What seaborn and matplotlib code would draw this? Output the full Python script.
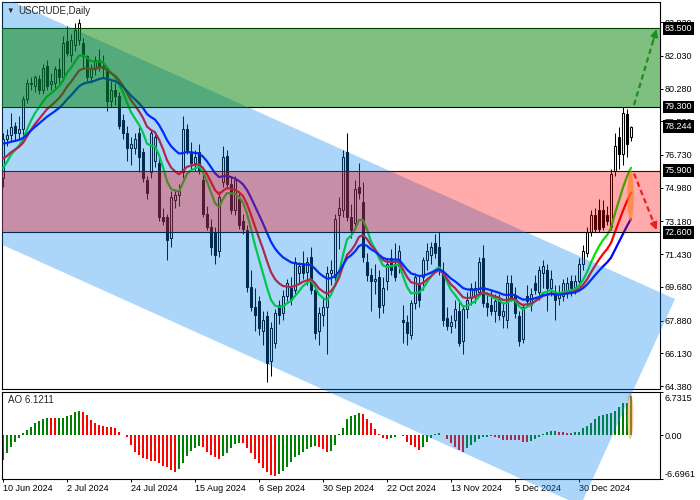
import numpy as np
import pandas as pd
import matplotlib
matplotlib.use("Agg")
import matplotlib.pyplot as plt
import matplotlib.transforms as mtrans
from matplotlib.patches import Polygon, Ellipse
import seaborn as sns

# ================= data =================
date_labels = ["10 Jun 2024", "2 Jul 2024", "24 Jul 2024", "15 Aug 2024", "6 Sep 2024",
               "30 Sep 2024", "22 Oct 2024", "13 Nov 2024", "5 Dec 2024", "30 Dec 2024"]
date_pos = [0, 16, 32, 48, 64, 80, 96, 112, 128, 144]

opens = [75.5, 77.6, 77.8, 78.3, 77.9, 78.1, 79.7, 80.6, 80.4, 80.8,
         80.2, 81.5, 80.5, 80.6, 81.3, 80.9, 82.8, 82.1, 82.6, 82.9,
         82.7, 82.0, 80.9, 81.3, 81.8, 81.5, 81.2, 79.6, 80.2, 79.9,
         78.6, 77.9, 77.1, 77.1, 77.9, 76.9, 75.4, 75.8, 76.4, 76.3,
         73.4, 73.4, 72.3, 74.3, 74.6, 75.8, 78.1, 76.9, 76.3, 76.9,
         75.4, 73.6, 72.9, 72.6, 71.6, 75.3, 76.7, 75.2, 73.8, 74.4,
         73.2, 72.7, 69.7, 68.6, 68.9, 67.3, 68.1, 65.7, 66.7, 68.7,
         68.3, 69.2, 69.6, 69.5, 70.4, 70.9, 70.5, 71.3, 69.5, 67.3,
         68.2, 68.6, 70.4, 70.2, 73.5, 73.8, 76.9, 73.4, 73.1, 75.0,
         74.2, 71.0, 70.3, 70.0, 70.2, 68.7, 70.0, 71.2, 70.9, 70.8,
         67.9, 67.8, 67.1, 68.8, 69.8, 70.2, 71.1, 71.4, 72.0, 71.8,
         70.4, 68.0, 67.6, 67.9, 68.4, 66.8, 68.5, 69.1, 69.2, 69.4,
         71.2, 68.8, 68.7, 68.4, 69.0, 68.1, 67.9, 69.9, 69.2, 68.1,
         66.9, 69.2, 68.7, 69.9, 69.4, 70.4, 70.6, 69.6, 69.4, 69.1,
         69.2, 69.4, 70.0, 69.6, 70.0, 70.9, 71.5, 72.6, 73.5, 73.8,
         73.8, 73.5, 72.9, 75.9, 77.7, 76.8, 78.9, 77.7]
highs = [77.9, 78.1, 79.0, 78.5, 78.8, 79.9, 80.8, 80.9, 81.0, 81.0,
         81.6, 81.8, 81.1, 81.5, 81.9, 83.1, 83.6, 83.2, 83.8, 84.0,
         83.0, 82.1, 81.6, 82.0, 82.4, 82.1, 81.4, 80.7, 80.6, 80.1,
         78.9, 78.3, 77.7, 77.9, 78.2, 77.1, 75.6, 78.1, 78.0, 76.6,
         73.9, 73.6, 74.8, 74.9, 75.2, 78.8, 78.4, 77.4, 77.0, 77.3,
         75.8, 74.0, 73.3, 72.9, 74.8, 77.2, 77.0, 75.6, 75.6, 74.8,
         73.6, 73.0, 70.6, 69.6, 69.2, 68.4, 68.4, 67.8, 68.5, 69.0,
         69.5, 70.1, 70.2, 71.3, 71.0, 71.6, 71.3, 71.8, 69.8, 68.6,
         69.1, 70.8, 71.1, 73.6, 74.5, 77.0, 77.9, 74.1, 75.4, 76.3,
         75.3, 71.5, 70.7, 70.9, 70.6, 70.2, 71.2, 71.7, 72.0, 71.9,
         68.7, 68.2, 69.0, 70.4, 70.3, 71.3, 72.0, 72.1, 72.5, 72.6,
         71.0, 68.6, 68.2, 69.0, 68.9, 68.7, 69.4, 69.9, 70.0, 71.3,
         71.9, 69.4, 69.5, 69.3, 69.3, 68.8, 70.3, 70.3, 69.7, 68.4,
         68.8, 69.8, 69.6, 70.3, 70.8, 71.1, 70.9, 70.6, 69.8, 69.8,
         70.1, 70.2, 70.3, 70.3, 71.2, 71.9, 72.9, 73.8, 73.9, 74.4,
         74.3, 74.0, 76.0, 77.9, 78.2, 79.3, 79.2, 78.3]
lows = [75.0, 77.2, 77.5, 77.5, 77.6, 77.8, 79.5, 80.2, 80.1, 80.0,
        80.0, 80.2, 80.2, 80.3, 80.6, 80.7, 82.0, 81.7, 82.3, 82.6,
        81.3, 80.7, 80.6, 81.0, 81.2, 80.9, 79.1, 79.3, 79.4, 78.1,
        77.6, 76.4, 76.2, 76.8, 75.8, 75.3, 74.4, 75.5, 76.1, 73.2,
        73.0, 71.1, 71.8, 73.9, 74.0, 75.5, 76.8, 75.9, 75.9, 75.7,
        73.4, 72.7, 71.4, 70.9, 71.3, 75.0, 75.0, 73.6, 73.5, 72.8,
        72.5, 69.4, 68.4, 67.3, 67.1, 66.6, 64.6, 64.9, 66.4, 67.7,
        67.9, 68.9, 68.7, 69.2, 69.9, 70.1, 69.8, 69.3, 66.9, 66.6,
        67.6, 66.1, 69.8, 69.9, 71.7, 73.4, 73.2, 72.3, 72.8, 74.4,
        71.0, 70.0, 68.4, 69.3, 68.0, 68.3, 69.5, 70.3, 70.0, 70.4,
        66.7, 66.6, 66.9, 68.5, 68.6, 69.5, 70.6, 70.9, 71.2, 70.3,
        67.6, 67.4, 67.2, 67.5, 66.5, 66.1, 68.0, 68.7, 68.8, 69.2,
        68.6, 68.1, 68.2, 67.8, 67.9, 67.5, 67.5, 68.9, 68.0, 66.5,
        66.7, 68.6, 68.4, 69.3, 69.0, 69.6, 68.4, 69.2, 67.9, 68.7,
        68.9, 69.1, 69.2, 69.3, 69.8, 70.6, 71.3, 72.4, 72.6, 72.6,
        72.7, 73.0, 72.7, 75.6, 76.0, 76.2, 76.6, 77.5]
closes = [77.6, 77.8, 78.2, 77.9, 78.1, 79.7, 80.6, 80.5, 80.9, 80.2,
          81.4, 80.4, 80.7, 81.3, 80.9, 82.7, 82.2, 82.9, 83.4, 83.8,
          82.0, 80.9, 81.3, 81.8, 81.5, 81.4, 79.6, 80.2, 79.9, 78.3,
          77.9, 77.1, 77.3, 77.6, 76.6, 75.5, 74.7, 77.9, 77.7, 73.4,
          73.2, 72.2, 74.5, 74.6, 74.8, 78.1, 77.0, 76.3, 76.6, 75.9,
          73.6, 72.9, 71.8, 71.4, 74.5, 76.6, 75.2, 73.8, 75.4, 73.0,
          72.8, 69.7, 68.6, 68.2, 67.5, 67.9, 65.6, 67.5, 68.3, 68.2,
          69.2, 69.9, 69.0, 71.0, 70.8, 70.4, 71.0, 69.5, 67.2, 68.3,
          68.6, 70.4, 70.6, 73.3, 73.9, 76.6, 73.4, 72.7, 74.9, 74.7,
          71.3, 70.3, 70.0, 70.1, 68.6, 69.6, 70.9, 70.6, 70.2, 71.6,
          67.8, 67.2, 68.8, 70.2, 69.0, 71.1, 71.6, 71.8, 71.5, 70.6,
          67.9, 67.6, 67.8, 68.5, 66.7, 68.5, 69.0, 69.6, 69.6, 71.0,
          68.8, 68.6, 68.4, 68.9, 68.2, 68.4, 69.9, 69.1, 68.3, 66.8,
          68.6, 68.9, 69.3, 69.5, 70.6, 70.8, 69.6, 70.1, 69.0, 69.4,
          69.9, 69.9, 69.6, 70.0, 70.9, 71.6, 72.6, 73.5, 72.8, 72.8,
          72.9, 73.2, 75.7, 77.2, 76.8, 79.0, 77.3, 78.244]

# Awesome Oscillator histogram
ao_values = [-3.82, -2.79, -1.75, -0.98, -0.47, 0.41, 0.82, 1.33, 1.85, 2.26,
             2.52, 2.72, 2.67, 2.62, 2.67, 2.72, 2.98, 3.2, 3.55, 3.75,
             3.65, 3.13, 2.36, 1.95, 1.59, 1.48, 1.33, 1.23, 1.07, 0.56,
             0.05, -0.21, -1.5, -2.53, -3.04, -3.56, -3.71, -3.92, -3.95, -4.33,
             -4.74, -4.95, -5.36, -5.61, -5.25, -4.33, -3.2, -2.48, -2.01, -1.65,
             -1.86, -2.53, -3.04, -3.4, -3.66, -3.2, -2.68, -2.01, -1.4, -1.14,
             -1.24, -1.91, -2.79, -3.71, -4.33, -5.1, -5.72, -6.13, -6.28, -5.97,
             -5.51, -4.84, -4.07, -3.4, -3.04, -2.53, -2.17, -1.86, -1.65, -1.75,
             -2.17, -2.53, -2.37, -1.5, 0.15, 1.15, 2.45, 2.98, 3.13, 3.39,
             3.29, 2.46, 1.85, 0.92, 0.15, -0.47, -0.55, -0.45, -0.3, 0.05,
             -0.15, -0.98, -1.5, -1.75, -2.27, -1.75, -0.98, -0.47, 0.2, 0.41,
             0.05, -0.62, -1.24, -1.75, -2.27, -2.53, -2.01, -1.5, -0.98, -0.62,
             -0.31, -0.21, -0.11, -0.21, -0.47, -0.72, -0.74, -0.76, -0.78, -0.8,
             -0.98, -1.0, -0.88, -0.62, -0.31, 0.2, 0.56, 0.67, 0.7, 0.56,
             0.45, 0.41, 0.38, 0.5, 0.56, 1.07, 1.43, 1.85, 2.46, 2.98,
             3.2, 3.3, 3.45, 3.8, 4.32, 4.94, 5.04, 6.1211]

# smoothed moving averages (lips / teeth / jaw) of the median price
ma_periods = [5, 8, 13]
ma_start = [75.93, 76.55, 77.42]
ma_colors = ["#00e600", "#ff0000", "#0000ff"]

price_ticks = [64.38, 66.13, 67.88, 69.68, 71.43, 73.18, 74.98, 76.73, 78.53, 80.28, 82.03, 83.83]
ao_ticks = [-6.6961, 0.0, 6.7315]
levels = [83.5, 79.3, 75.9, 72.6]
last_price = 78.244

# drawn objects: channel corners (bar, price), target arrows
channel_x = [-1.75, 168.0, 144.375, -1.75]
channel_y = [85.33, 69.03, 57.995, 72.08]
arrow_up = [(157.75, 79.4), (163.4, 83.45)]
arrow_down = [(157.75, 75.74), (163.4, 72.72)]

# ================= figure =================
sns.set_theme(style="white")
plt.rcParams['font.family'] = ['Liberation Sans', 'DejaVu Sans']

W, H = 700, 500
fig = plt.figure(figsize=(7, 5), dpi=100, facecolor='white')


def box(x0, y0, x1, y1):
    return [x0 / W, 1 - y1 / H, (x1 - x0) / W, (y1 - y0) / H]


ax = fig.add_axes(box(2, 2, 659.5, 389))
ax2 = fig.add_axes(box(2, 391.7, 659.5, 478.7))
for a in (ax, ax2):
    a.set_facecolor('white')
    for s in a.spines.values():
        s.set_color('black')
        s.set_linewidth(0.8)

df = pd.DataFrame({'o': opens, 'h': highs, 'l': lows, 'c': closes})
df['i'] = np.arange(len(df))
up = df.c >= df.o

# candles
ax.vlines(df.i, df.l, df.h, color='black', lw=0.75, zorder=2)
ax.bar(df.i[up], (df.c - df.o)[up], bottom=df.o[up], width=0.62,
       facecolor='white', edgecolor='black', linewidth=0.75, zorder=2.5)
ax.bar(df.i[~up], (df.o - df.c)[~up], bottom=df.c[~up], width=0.62,
       facecolor='black', edgecolor='black', linewidth=0.75, zorder=2.5)

# moving averages
median = (df.h + df.l) / 2
for n, start, col in zip(ma_periods, ma_start, ma_colors):
    smma = pd.concat([pd.Series([start]), median], ignore_index=True)
    smma = smma.ewm(alpha=1 / n, adjust=False).mean().iloc[1:].values
    sns.lineplot(x=df.i.values, y=smma, color=col, linewidth=1.6, ax=ax, zorder=3)

# levels + zones
for lv in levels:
    ax.axhline(lv, color='black', lw=0.8, zorder=3.6)
chan_pts = list(zip(channel_x, channel_y))
ax.add_patch(Polygon(chan_pts, closed=True, facecolor='#0085f0', alpha=0.33,
                     edgecolor='none', zorder=4))
ax.axhspan(levels[1], levels[0], color='#008000', alpha=0.5, lw=0, zorder=5)
ax.axhspan(levels[3], levels[2], color='#ff0000', alpha=0.33, lw=0, zorder=5)

# channel part outside the price panel (over the oscillator and labels)
chan_out = Polygon(chan_pts, closed=True, facecolor='#0085f0', alpha=0.33,
                   edgecolor='none', transform=ax.transData, zorder=5)
clip = Polygon([(0, 0), (1, 0), (1, 1), (659.5 / W, 1), (659.5 / W, 1 - 389 / H), (0, 1 - 389 / H)],
               closed=True, transform=fig.transFigure)
chan_out.set_clip_path(clip)
fig.add_artist(chan_out)

ax.add_patch(Ellipse((156.9, 74.55), 1.6, 2.7, facecolor='#ff7f2a', alpha=0.7,
                     edgecolor='none', zorder=6))


def dashed_arrow(p0, p1, color):
    ax.plot([p0[0], p1[0]], [p0[1], p1[1]], color=color, lw=1.6,
            ls=(0, (2.4, 1.6)), zorder=7)
    back = (p1[0] - (p1[0] - p0[0]) * 0.14, p1[1] - (p1[1] - p0[1]) * 0.14)
    ax.annotate('', xy=p1, xytext=back, zorder=8, annotation_clip=False,
                arrowprops=dict(arrowstyle='-|>', color=color, lw=1.2,
                                mutation_scale=11, shrinkA=0, shrinkB=0))


dashed_arrow(arrow_up[0], arrow_up[1], '#1f8c1f')
dashed_arrow(arrow_down[0], arrow_down[1], '#e62020')

ax.set_xlim(-0.25, 164.125)
ax.set_ylim(64.222, 84.906)
ax.set_xlabel('')
ax.set_ylabel('')
ax.set_xticks([])
ax.set_yticks(price_ticks)
ax.set_yticklabels([f"{v:.3f}" for v in price_ticks])
ax.tick_params(axis='y', left=False, right=True, labelleft=False, labelright=True,
               direction='out', length=2.2, width=0.7, pad=1.6, labelsize=6.5,
               color='black', labelcolor='black')

trans = mtrans.blended_transform_factory(ax.transAxes, ax.transData)
for v in levels + [last_price]:
    ax.text((665 - 2) / 657.5, v, f"{v:.3f}", transform=trans, color='white',
            fontsize=6.5, va='center', ha='left', clip_on=False, zorder=10,
            bbox=dict(boxstyle='square,pad=0.2', fc='black', ec='black', lw=0))

# ================= AO panel =================
ao = np.array(ao_values)
ao_cols = ['#008000' if k == 0 or ao[k] >= ao[k - 1] else '#ff0000' for k in range(len(ao))]
ax2.bar(np.arange(len(ao)), ao, width=0.7, color=ao_cols, linewidth=0, zorder=2)
ax2.add_patch(Ellipse((156.8, 2.98), 1.6, 7.2, facecolor='#ff8c40', alpha=0.5,
                      edgecolor='none', zorder=4))
ax2.set_xlim(-0.25, 164.125)
ax2.set_ylim(ao_ticks[0], ao_ticks[-1])
ax2.set_yticks(ao_ticks)
ax2.set_yticklabels(['-6.6961', '0.00', '6.7315'])
ax2.tick_params(axis='y', left=False, right=True, labelleft=False, labelright=True,
                direction='out', length=2.2, width=0.7, pad=1.6, labelsize=6.5,
                color='black', labelcolor='black')
# end labels sit inside the panel, like the terminal draws them
for t, dy in zip(ax2.yaxis.get_major_ticks(), [5, 0, -5.5]):
    t.label2.set_transform(t.label2.get_transform()
                           + mtrans.ScaledTranslation(0, dy / 100, fig.dpi_scale_trans))
ax2.set_xticks(date_pos)
ax2.set_xticklabels(date_labels, ha='left')
ax2.tick_params(axis='x', bottom=True, direction='out', length=2.2, width=0.7,
                pad=1.5, labelsize=6.5, color='black', labelcolor='black')

fig.text(6 / W, 1 - 11 / H, "\u25bc", fontsize=5.5, va='center', ha='left')
fig.text(18 / W, 1 - 11 / H, "USCRUDE,Daily", fontsize=7, va='center', ha='left')
fig.text(8 / W, 1 - 400 / H, "AO 6.1211", fontsize=7, va='center', ha='left')

fig.savefig('out.png', dpi=100, facecolor='white')
